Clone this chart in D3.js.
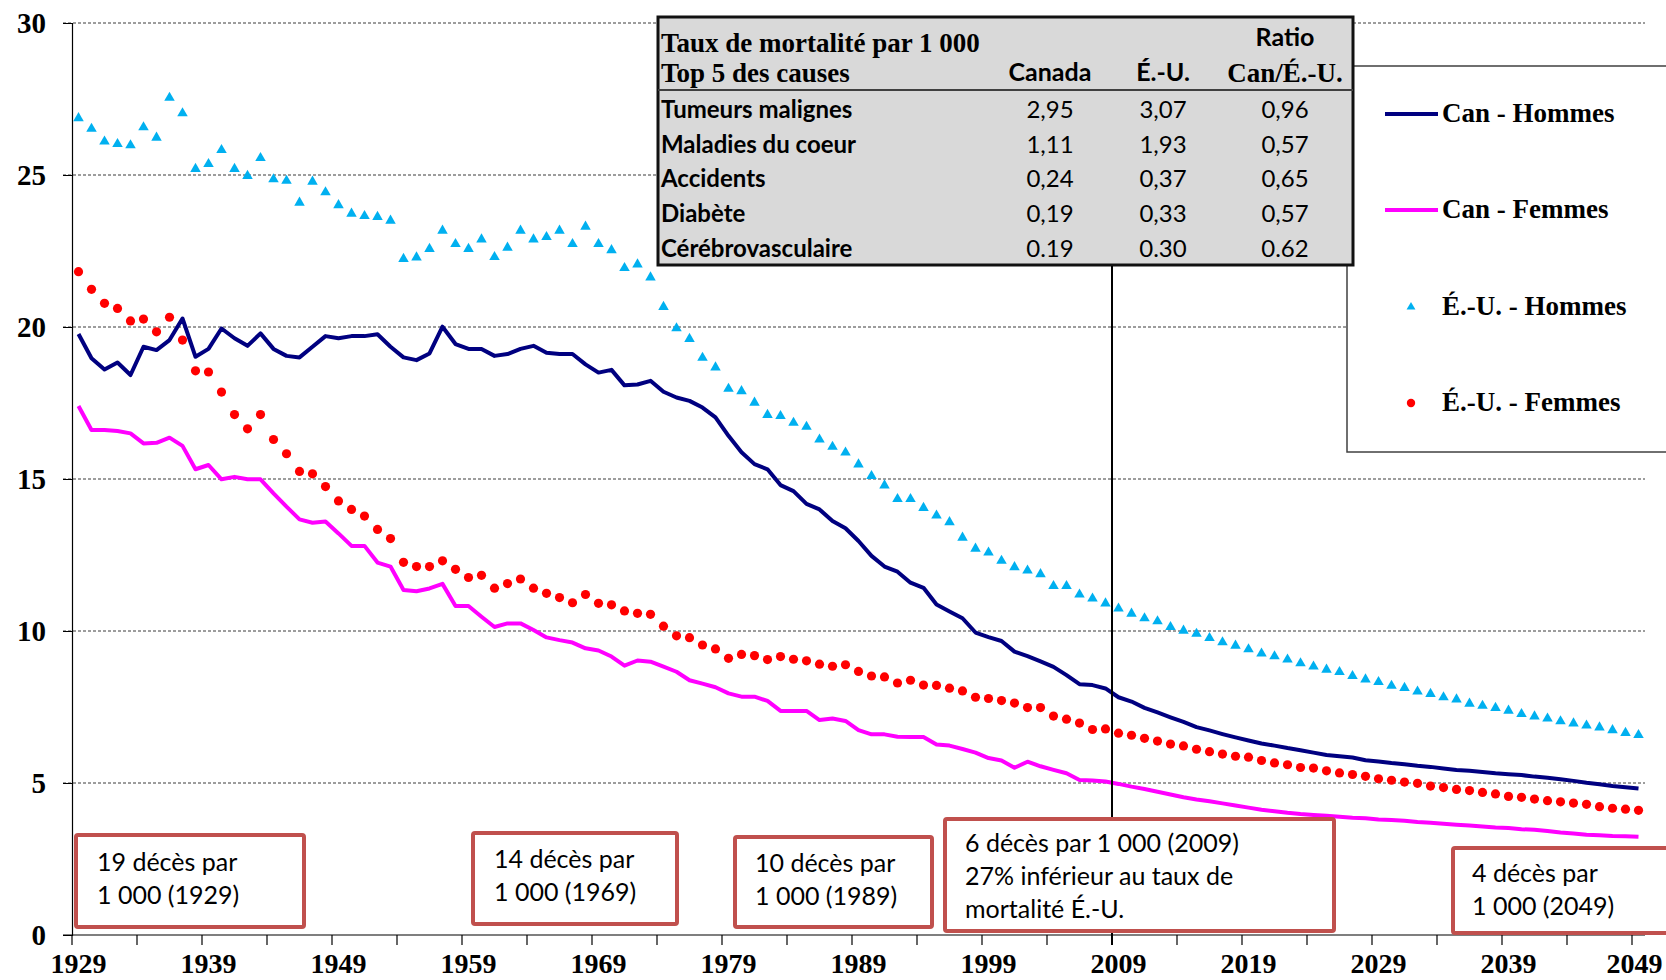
<!DOCTYPE html>
<html>
<head>
<meta charset="utf-8">
<script src="https://cdn.jsdelivr.net/npm/d3@7"></script>
<style>
  body { margin: 0; background: #fff; }
  svg { display: block; }
</style>
</head>
<body>
<div id="container"></div>
<script>
// --- data ---
var years = d3.range(1929, 2050);

var canHommes = [
  19.77, 18.97, 18.60, 18.83, 18.42, 19.35, 19.24, 19.57, 20.28, 19.02,
  19.28, 19.95, 19.63, 19.38, 19.79, 19.28, 19.05, 19.00, 19.35, 19.70,
  19.63, 19.70, 19.70, 19.76, 19.35, 19.00, 18.91, 19.13, 20.01, 19.44,
  19.28, 19.28, 19.05, 19.11, 19.28, 19.38, 19.15, 19.11, 19.11, 18.77,
  18.50, 18.59, 18.08, 18.11, 18.23, 17.87, 17.68, 17.57, 17.35, 17.03,
  16.42, 15.88, 15.49, 15.32, 14.80, 14.60, 14.18, 14.00, 13.62, 13.38,
  12.96, 12.47, 12.12, 11.95, 11.59, 11.42, 10.87, 10.64, 10.42, 9.95,
  9.80, 9.67, 9.32, 9.17, 9.00, 8.82, 8.55, 8.25, 8.22, 8.11,
  7.82, 7.68, 7.47, 7.32, 7.16, 7.01, 6.84, 6.73, 6.61, 6.50,
  6.40, 6.30, 6.23, 6.15, 6.08, 6.00, 5.92, 5.88, 5.84, 5.75,
  5.71, 5.66, 5.62, 5.57, 5.53, 5.48, 5.43, 5.40, 5.36, 5.32,
  5.29, 5.26, 5.21, 5.17, 5.12, 5.07, 5.01, 4.96, 4.90, 4.86,
  4.82
];

var canFemmes = [
  17.40, 16.61, 16.61, 16.58, 16.50, 16.17, 16.19, 16.36, 16.09, 15.32,
  15.46, 14.99, 15.07, 14.99, 14.99, 14.53, 14.09, 13.67, 13.56, 13.60,
  13.21, 12.80, 12.80, 12.25, 12.12, 11.35, 11.31, 11.40, 11.55, 10.82,
  10.82, 10.47, 10.13, 10.25, 10.25, 10.03, 9.79, 9.70, 9.62, 9.43,
  9.36, 9.16, 8.86, 9.03, 8.99, 8.83, 8.66, 8.38, 8.27, 8.15,
  7.95, 7.84, 7.84, 7.70, 7.37, 7.37, 7.37, 7.07, 7.12, 7.04,
  6.74, 6.60, 6.60, 6.52, 6.51, 6.51, 6.27, 6.23, 6.12, 6.00,
  5.82, 5.74, 5.50, 5.70, 5.55, 5.43, 5.32, 5.10, 5.08, 5.05,
  4.97, 4.88, 4.80, 4.71, 4.62, 4.53, 4.46, 4.40, 4.33, 4.26,
  4.19, 4.12, 4.07, 4.02, 3.98, 3.95, 3.92, 3.89, 3.86, 3.84,
  3.80, 3.78, 3.76, 3.72, 3.69, 3.66, 3.63, 3.60, 3.57, 3.54,
  3.52, 3.48, 3.46, 3.42, 3.37, 3.34, 3.30, 3.28, 3.26, 3.25,
  3.23
];

var euHommes = [
  26.87, 26.52, 26.10, 26.02, 25.98, 26.57, 26.23, 27.54, 27.03, 25.20,
  25.36, 25.82, 25.20, 24.97, 25.56, 24.86, 24.81, 24.09, 24.78, 24.43,
  24.01, 23.73, 23.65, 23.62, 23.50, 22.24, 22.29, 22.57, 23.17, 22.73,
  22.57, 22.88, 22.30, 22.61, 23.17, 22.88, 22.96, 23.17, 22.73, 23.30,
  22.73, 22.53, 21.94, 22.06, 21.63, 20.66, 19.96, 19.61, 18.99, 18.67,
  17.97, 17.89, 17.51, 17.11, 17.07, 16.85, 16.72, 16.30, 16.06, 15.87,
  15.48, 15.10, 14.79, 14.34, 14.34, 14.05, 13.80, 13.58, 13.07, 12.71,
  12.58, 12.31, 12.10, 11.99, 11.87, 11.48, 11.48, 11.20, 11.07, 10.91,
  10.74, 10.57, 10.42, 10.32, 10.13, 10.01, 9.91, 9.77, 9.63, 9.52,
  9.40, 9.26, 9.17, 9.06, 8.94, 8.83, 8.73, 8.65, 8.52, 8.41,
  8.32, 8.20, 8.13, 8.01, 7.93, 7.82, 7.75, 7.61, 7.54, 7.47,
  7.38, 7.27, 7.19, 7.12, 7.03, 6.96, 6.89, 6.83, 6.74, 6.65,
  6.58
];

var euFemmes = [
  21.82, 21.24, 20.78, 20.61, 20.20, 20.26, 19.84, 20.32, 19.57, 18.56,
  18.52, 17.86, 17.12, 16.65, 17.12, 16.30, 15.83, 15.25, 15.17, 14.75,
  14.28, 14.00, 13.78, 13.34, 13.04, 12.26, 12.12, 12.12, 12.31, 12.03,
  11.76, 11.83, 11.41, 11.56, 11.71, 11.41, 11.24, 11.10, 10.93, 11.20,
  10.91, 10.86, 10.66, 10.58, 10.55, 10.16, 9.84, 9.78, 9.54, 9.41,
  9.10, 9.23, 9.19, 9.06, 9.16, 9.07, 9.02, 8.91, 8.84, 8.89,
  8.67, 8.52, 8.49, 8.29, 8.38, 8.22, 8.21, 8.12, 8.03, 7.82,
  7.78, 7.71, 7.63, 7.48, 7.48, 7.20, 7.10, 6.97, 6.76, 6.78,
  6.64, 6.57, 6.47, 6.38, 6.28, 6.22, 6.11, 6.03, 5.95, 5.88,
  5.85, 5.74, 5.66, 5.60, 5.51, 5.49, 5.40, 5.33, 5.28, 5.22,
  5.14, 5.09, 5.03, 4.99, 4.90, 4.85, 4.79, 4.75, 4.69, 4.64,
  4.56, 4.53, 4.47, 4.42, 4.38, 4.34, 4.30, 4.22, 4.17, 4.14,
  4.10
];

var yTicks = [0, 5, 10, 15, 20, 25, 30];
var yearLabels = [1929, 1939, 1949, 1959, 1969, 1979, 1989, 1999, 2009, 2019, 2029, 2039, 2049];
var yearTicks = [1929, 1934, 1939, 1944, 1949, 1954, 1959, 1964, 1969, 1974, 1979, 1984, 1989,
  1994, 1999, 2004, 2009, 2014, 2019, 2024, 2029, 2034, 2039, 2044, 2049];
var markYear = 2009;

var tableHeader = ["Canada", "É.-U.", "Can/É.-U."];
var causes = ["Tumeurs malignes", "Maladies du coeur", "Accidents", "Diabète", "Cérébrovasculaire"];
var tauxCanada = ["2,95", "1,11", "0,24", "0,19", "0.19"];
var tauxEU = ["3,07", "1,93", "0,37", "0,33", "0.30"];
var ratio = ["0,96", "0,57", "0,65", "0,57", "0.62"];

var legendNames = ["Can - Hommes", "Can - Femmes", "É.-U. - Hommes", "É.-U. - Femmes"];

var notes = [
  { year: 1929, lines: ["19 décès par", "1 000 (1929)"] },
  { year: 1969, lines: ["14 décès par", "1 000 (1969)"] },
  { year: 1989, lines: ["10 décès par", "1 000 (1989)"] },
  { year: 2009, lines: ["6 décès par 1 000 (2009)", "27% inférieur au taux de", "mortalité É.-U."] },
  { year: 2049, lines: ["4 décès par", "1 000 (2049)"] }
];

// --- layout ---
var W = 1666, H = 980;
var serif = "'Liberation Serif', 'Times New Roman', serif";
var sans = "Lato, 'Open Sans', sans-serif";

var svg = d3.select("#container").append("svg")
  .attr("width", W).attr("height", H);

var x = d3.scaleBand().domain(years).range([72, 1645]).padding(0);
var y = d3.scaleLinear().domain([0, 30]).range([935, 23]);
var cx = function (yr) { return x(yr) + x.bandwidth() / 2; };

// gridlines (dashed)
svg.append("g").selectAll("line")
  .data(yTicks.filter(function (d) { return d > 0; }))
  .enter().append("line")
  .attr("x1", 63).attr("x2", 1645)
  .attr("y1", function (d) { return y(d); })
  .attr("y2", function (d) { return y(d); })
  .attr("stroke", "#3a3a3a")
  .attr("stroke-width", 1)
  .attr("stroke-dasharray", "3,2");

// y axis
var yAxis = svg.append("g")
  .attr("transform", "translate(72,0)")
  .call(d3.axisLeft(y).tickValues(yTicks).tickSize(9).tickFormat(d3.format("d")));
yAxis.select(".domain").attr("stroke", "#000").attr("stroke-width", 1.2);
yAxis.selectAll(".tick line").attr("stroke", "#000");
yAxis.selectAll(".tick text")
  .attr("x", -26)
  .attr("dy", "0.34em")
  .style("font-family", serif)
  .style("font-weight", "bold")
  .style("font-size", "29px")
  .attr("fill", "#000");

// x axis: labels at category centres, tick marks at category edges
var xAxis = svg.append("g")
  .attr("transform", "translate(0,935)")
  .call(d3.axisBottom(x).tickValues(yearLabels).tickSize(0).tickPadding(0));
xAxis.select(".domain").remove();
xAxis.selectAll(".tick text")
  .attr("y", 38)
  .attr("dy", null)
  .style("font-family", serif)
  .style("font-weight", "bold")
  .style("font-size", "28px")
  .attr("fill", "#000");
// last label sits on the right edge: keep it inside the picture
xAxis.selectAll(".tick text")
  .filter(function (d) { return d === 2049; })
  .attr("x", -4);

svg.append("line")
  .attr("x1", 63).attr("x2", 1645)
  .attr("y1", 935).attr("y2", 935)
  .attr("stroke", "#000").attr("stroke-width", 1.2);

svg.append("g").selectAll("line")
  .data(yearTicks)
  .enter().append("line")
  .attr("x1", function (d) { return x(d); })
  .attr("x2", function (d) { return x(d); })
  .attr("y1", 935).attr("y2", 945)
  .attr("stroke", "#000").attr("stroke-width", 1.2);

// --- series ---
var line = d3.line()
  .x(function (d, i) { return cx(years[i]); })
  .y(function (d) { return y(d); });

svg.append("path")
  .datum(canFemmes)
  .attr("d", line)
  .attr("fill", "none")
  .attr("stroke", "#ff00ff")
  .attr("stroke-width", 4)
  .attr("stroke-linejoin", "round");

svg.append("path")
  .datum(canHommes)
  .attr("d", line)
  .attr("fill", "none")
  .attr("stroke", "#000080")
  .attr("stroke-width", 4)
  .attr("stroke-linejoin", "round");

var tri = d3.symbol().type(d3.symbolTriangle).size(48);

svg.append("g").selectAll("path")
  .data(euHommes)
  .enter().append("path")
  .attr("d", tri)
  .attr("transform", function (d, i) { return "translate(" + cx(years[i]) + "," + y(d) + ")"; })
  .attr("fill", "#00b0f0");

svg.append("g").selectAll("circle")
  .data(euFemmes)
  .enter().append("circle")
  .attr("cx", function (d, i) { return cx(years[i]); })
  .attr("cy", function (d) { return y(d); })
  .attr("r", 4.6)
  .attr("fill", "#ff0000");

// --- legend ---
var lg = svg.append("g");
lg.append("rect")
  .attr("x", 1347).attr("y", 66)
  .attr("width", 340).attr("height", 386)
  .attr("fill", "#fff")
  .attr("stroke", "#404040")
  .attr("stroke-width", 1.5);

var legendY = [118, 214, 311, 407];
lg.append("line").attr("x1", 1385).attr("x2", 1438)
  .attr("y1", legendY[0] - 4).attr("y2", legendY[0] - 4)
  .attr("stroke", "#000080").attr("stroke-width", 4);
lg.append("line").attr("x1", 1385).attr("x2", 1438)
  .attr("y1", legendY[1] - 4).attr("y2", legendY[1] - 4)
  .attr("stroke", "#ff00ff").attr("stroke-width", 4);
lg.append("path")
  .attr("d", d3.symbol().type(d3.symbolTriangle).size(34))
  .attr("transform", "translate(1411," + (legendY[2] - 4) + ")")
  .attr("fill", "#00b0f0");
lg.append("circle")
  .attr("cx", 1411).attr("cy", legendY[3] - 4).attr("r", 4.2)
  .attr("fill", "#ff0000");

lg.selectAll("text.leg")
  .data(legendNames)
  .enter().append("text")
  .attr("class", "leg")
  .attr("x", 1442)
  .attr("y", function (d, i) { return legendY[i] + 4; })
  .text(function (d) { return d; })
  .style("font-family", serif)
  .style("font-weight", "bold")
  .style("font-size", "27px")
  .attr("fill", "#000");

// --- table ---
var tb = svg.append("g");
tb.append("rect")
  .attr("x", 658).attr("y", 17)
  .attr("width", 695).attr("height", 248)
  .attr("fill", "#d9d9d9")
  .attr("stroke", "#111")
  .attr("stroke-width", 3);
tb.append("line")
  .attr("x1", 658).attr("x2", 1353)
  .attr("y1", 90).attr("y2", 90)
  .attr("stroke", "#404040").attr("stroke-width", 2);

var colX = [1050, 1163, 1285];

tb.append("text").attr("x", 661).attr("y", 52)
  .text("Taux de mortalité par 1 000")
  .style("font-family", serif).style("font-weight", "bold").style("font-size", "27px");
tb.append("text").attr("x", 661).attr("y", 82)
  .text("Top 5 des causes")
  .style("font-family", serif).style("font-weight", "bold").style("font-size", "27px");
tb.append("text").attr("x", colX[2]).attr("y", 46)
  .attr("text-anchor", "middle")
  .text("Ratio")
  .style("font-family", sans).style("font-weight", "bold").style("font-size", "25px");
tb.append("text").attr("x", colX[0]).attr("y", 81)
  .attr("text-anchor", "middle")
  .text(tableHeader[0])
  .style("font-family", sans).style("font-weight", "bold").style("font-size", "25px");
tb.append("text").attr("x", colX[1]).attr("y", 81)
  .attr("text-anchor", "middle")
  .text(tableHeader[1])
  .style("font-family", sans).style("font-weight", "bold").style("font-size", "25px");
tb.append("text").attr("x", colX[2]).attr("y", 82)
  .attr("text-anchor", "middle")
  .text(tableHeader[2])
  .style("font-family", serif).style("font-weight", "bold").style("font-size", "27px");

var rowY = [118, 152.5, 187, 221.5, 256.5];
causes.forEach(function (c, i) {
  tb.append("text").attr("x", 661).attr("y", rowY[i])
    .text(c)
    .style("font-family", sans).style("font-weight", "bold").style("font-size", "24px");
  [tauxCanada[i], tauxEU[i], ratio[i]].forEach(function (v, j) {
    tb.append("text").attr("x", colX[j]).attr("y", rowY[i])
      .attr("text-anchor", "middle")
      .text(v)
      .style("font-family", sans).style("font-size", "24px");
  });
});

// vertical marker at 2009 (from table down to the axis)
svg.append("line")
  .attr("x1", x(markYear)).attr("x2", x(markYear))
  .attr("y1", 266).attr("y2", 945)
  .attr("stroke", "#000").attr("stroke-width", 2);

// --- annotation boxes ---
var noteBoxes = [
  { x: 76, y: 835, w: 228, h: 92 },
  { x: 473, y: 833, w: 204, h: 91 },
  { x: 735, y: 837, w: 197, h: 90 },
  { x: 945, y: 819, w: 389, h: 112 },
  { x: 1453, y: 848, w: 240, h: 85 }
];
var noteText = [
  { x: 97, y: 871 },
  { x: 494, y: 868 },
  { x: 755, y: 872 },
  { x: 965, y: 852 },
  { x: 1472, y: 882 }
];

notes.forEach(function (n, k) {
  var b = noteBoxes[k];
  svg.append("rect")
    .attr("x", b.x).attr("y", b.y)
    .attr("width", b.w).attr("height", b.h)
    .attr("rx", 2)
    .attr("fill", "#fff")
    .attr("stroke", "#c0504d")
    .attr("stroke-width", 4);
  var t = svg.append("text")
    .attr("x", noteText[k].x).attr("y", noteText[k].y)
    .style("font-family", sans)
    .style("font-size", "25px")
    .attr("fill", "#000");
  n.lines.forEach(function (l, j) {
    t.append("tspan")
      .attr("x", noteText[k].x)
      .attr("dy", j === 0 ? 0 : 33)
      .text(l);
  });
});
</script>
</body>
</html>
